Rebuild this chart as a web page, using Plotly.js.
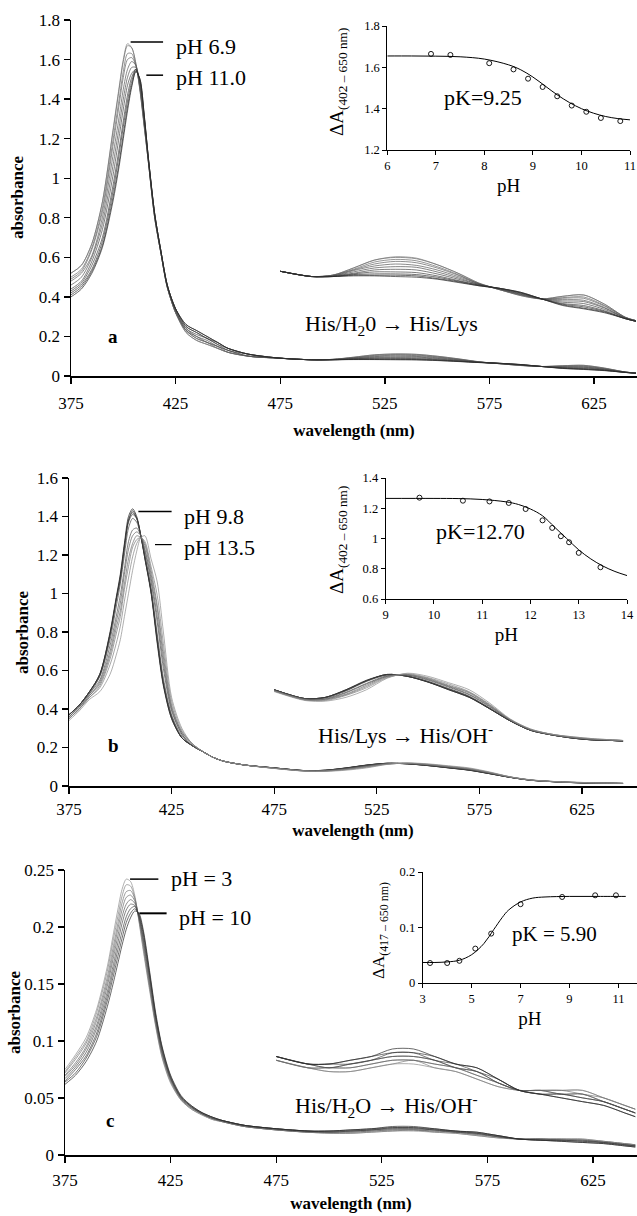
<!DOCTYPE html>
<html><head><meta charset="utf-8">
<script src="https://cdn.plot.ly/plotly-3.0.1.min.js"></script>
<style>html,body{margin:0;padding:0;background:#fff}#chart{width:637px;height:1216px}</style>
</head><body><div id="chart"></div>
<script>
// ---------------- DATA ----------------
const wavelength = [375,380,385,390,395,398,400,402,404,406,408,410,412,415,418,421,425,430,435,440,445,450,460,475,490,500,510,520,530,540,550,560,570,580,590,600,610,620,630,640,645];

// Panel a : His/H2O -> His/Lys, pH 6.9 ... pH 11.0
const specA0  = [.52,.56,.67,.88,1.24,1.46,1.60,1.68,1.66,1.58,1.44,1.26,1.08,.80,.62,.45,.32,.22,.18,.16,.14,.12,.10,.090,.082,.084,.095,.107,.112,.110,.100,.087,.072,.062,.053,.048,.052,.054,.040,.020,.015];
const specA1  = [.52,.56,.67,.88,1.23,1.45,1.59,1.67,1.66,1.58,1.44,1.26,1.08,.80,.62,.45,.32,.22,.18,.16,.14,.12,.10,.090,.082,.084,.095,.107,.111,.109,.100,.087,.072,.062,.053,.048,.052,.054,.040,.020,.015];
const specA2  = [.50,.54,.65,.85,1.19,1.40,1.54,1.63,1.63,1.57,1.45,1.27,1.08,.80,.62,.45,.32,.23,.19,.17,.14,.12,.10,.090,.082,.084,.093,.104,.108,.106,.097,.085,.071,.062,.054,.048,.050,.051,.038,.020,.015];
const specA3  = [.49,.53,.64,.83,1.16,1.37,1.51,1.60,1.61,1.57,1.45,1.27,1.08,.80,.62,.45,.32,.23,.19,.17,.15,.12,.10,.090,.082,.084,.092,.101,.105,.103,.095,.084,.071,.062,.054,.048,.049,.049,.037,.020,.015];
const specA4  = [.48,.52,.61,.80,1.11,1.31,1.45,1.55,1.59,1.57,1.46,1.28,1.09,.81,.62,.45,.33,.23,.20,.17,.15,.13,.10,.090,.082,.083,.091,.098,.101,.099,.092,.082,.071,.063,.055,.048,.047,.046,.035,.019,.015];
const specA5  = [.46,.50,.60,.77,1.06,1.26,1.40,1.51,1.56,1.56,1.47,1.29,1.09,.81,.62,.45,.33,.24,.20,.18,.15,.13,.10,.090,.082,.083,.089,.095,.097,.096,.089,.080,.070,.063,.055,.048,.045,.044,.034,.019,.015];
const specA6  = [.44,.48,.58,.74,1.01,1.21,1.35,1.47,1.53,1.55,1.48,1.30,1.09,.81,.63,.46,.33,.24,.21,.19,.16,.13,.11,.090,.082,.083,.087,.092,.093,.092,.086,.078,.070,.063,.056,.048,.043,.041,.032,.019,.014];
const specA7  = [.43,.47,.56,.70,.96,1.15,1.29,1.42,1.51,1.55,1.49,1.31,1.10,.82,.63,.46,.34,.25,.22,.19,.16,.14,.11,.090,.082,.082,.086,.089,.089,.088,.083,.076,.069,.064,.057,.048,.041,.038,.030,.018,.014];
const specA8  = [.42,.46,.54,.68,.93,1.12,1.26,1.39,1.49,1.55,1.49,1.31,1.10,.82,.63,.46,.34,.25,.22,.19,.17,.14,.11,.090,.082,.082,.085,.086,.086,.085,.081,.075,.069,.064,.057,.048,.040,.036,.029,.018,.014];
const specA9  = [.41,.45,.53,.66,.90,1.08,1.22,1.36,1.47,1.54,1.50,1.32,1.10,.82,.63,.46,.34,.26,.23,.20,.17,.14,.11,.090,.082,.082,.084,.084,.084,.083,.079,.074,.068,.064,.058,.048,.039,.034,.028,.018,.014];
const specA10 = [.40,.44,.52,.65,.88,1.06,1.20,1.34,1.46,1.54,1.50,1.32,1.10,.82,.63,.46,.34,.26,.23,.20,.17,.14,.11,.090,.082,.082,.083,.083,.082,.081,.078,.073,.068,.064,.058,.048,.038,.033,.027,.018,.014];

// Panel b : His/Lys -> His/OH-, pH 9.8 ... pH 13.5
const specB0  = [.37,.42,.49,.58,.80,.98,1.10,1.26,1.40,1.44,1.40,1.30,1.18,1.00,.74,.52,.35,.25,.21,.18,.15,.13,.11,.094,.080,.082,.094,.109,.118,.115,.106,.094,.082,.064,.045,.030,.023,.018,.015,.014,.013];
const specB1  = [.37,.42,.49,.58,.79,.97,1.09,1.25,1.38,1.43,1.39,1.30,1.18,1.01,.75,.53,.35,.25,.21,.18,.15,.13,.11,.094,.080,.082,.094,.108,.118,.115,.106,.094,.082,.064,.045,.030,.023,.018,.015,.014,.013];
const specB2  = [.37,.42,.49,.58,.79,.97,1.08,1.24,1.38,1.42,1.39,1.30,1.19,1.01,.76,.53,.36,.25,.21,.18,.15,.13,.11,.094,.080,.082,.093,.108,.118,.115,.106,.095,.083,.064,.045,.030,.023,.018,.015,.014,.013];
const specB3  = [.37,.42,.49,.57,.78,.96,1.07,1.23,1.37,1.41,1.39,1.30,1.19,1.01,.77,.54,.36,.25,.21,.18,.15,.13,.11,.094,.080,.082,.093,.108,.118,.115,.107,.095,.083,.065,.045,.030,.023,.018,.015,.014,.013];
const specB4  = [.37,.42,.48,.57,.76,.93,1.05,1.20,1.34,1.39,1.37,1.30,1.20,1.03,.79,.56,.37,.26,.21,.18,.15,.13,.11,.094,.080,.081,.092,.107,.117,.116,.107,.096,.084,.065,.045,.030,.023,.018,.015,.014,.013];
const specB5  = [.36,.41,.48,.55,.73,.88,.99,1.13,1.27,1.33,1.34,1.30,1.22,1.06,.85,.61,.39,.27,.21,.18,.15,.13,.11,.093,.079,.080,.090,.104,.116,.117,.109,.098,.086,.067,.046,.031,.023,.019,.016,.014,.013];
const specB6  = [.36,.41,.47,.54,.70,.85,.95,1.10,1.23,1.30,1.32,1.30,1.23,1.08,.88,.64,.40,.27,.21,.18,.15,.13,.11,.093,.079,.079,.089,.103,.115,.117,.110,.099,.087,.068,.046,.031,.023,.019,.016,.014,.013];
const specB7  = [.35,.40,.47,.53,.68,.82,.91,1.05,1.18,1.26,1.30,1.29,1.25,1.10,.92,.67,.41,.28,.22,.18,.15,.13,.11,.092,.078,.079,.087,.101,.115,.118,.111,.100,.089,.069,.047,.031,.024,.019,.016,.015,.014];
const specB8  = [.35,.40,.46,.52,.66,.79,.88,1.02,1.14,1.24,1.28,1.29,1.26,1.12,.94,.70,.42,.28,.22,.18,.15,.13,.11,.092,.078,.078,.086,.099,.114,.118,.112,.101,.090,.070,.047,.031,.024,.019,.016,.015,.014];
const specB9  = [.35,.40,.46,.51,.63,.74,.83,.96,1.08,1.19,1.26,1.29,1.27,1.14,.99,.74,.44,.29,.22,.18,.15,.13,.11,.092,.078,.077,.085,.097,.113,.119,.113,.103,.091,.071,.047,.032,.024,.020,.017,.015,.014];
const specB10 = [.34,.39,.45,.49,.58,.68,.76,.88,1.00,1.12,1.22,1.29,1.30,1.18,1.06,.80,.46,.30,.22,.18,.15,.13,.11,.091,.077,.076,.082,.094,.112,.120,.115,.105,.094,.073,.048,.032,.024,.020,.017,.015,.014];

// Panel c : His/H2O -> His/OH-, pH 3 ... pH 10
const specC0 = [.075,.088,.103,.128,.165,.195,.215,.233,.242,.240,.228,.205,.180,.145,.112,.085,.063,.048,.040,.035,.031,.029,.025,.022,.020,.019,.019,.020,.021,.021,.020,.019,.017,.015,.014,.014,.014,.014,.012,.010,.009];
const specC1 = [.073,.086,.100,.125,.161,.190,.209,.227,.237,.236,.226,.206,.182,.147,.113,.086,.064,.048,.040,.035,.031,.029,.025,.022,.020,.019,.019,.020,.021,.022,.020,.019,.017,.015,.014,.014,.014,.014,.012,.010,.009];
const specC2 = [.072,.084,.098,.121,.156,.184,.203,.221,.231,.232,.225,.207,.185,.149,.115,.088,.065,.049,.041,.036,.032,.029,.025,.022,.020,.020,.020,.021,.022,.022,.021,.020,.018,.016,.014,.014,.014,.013,.012,.010,.009];
const specC3 = [.070,.081,.095,.118,.152,.179,.198,.215,.226,.228,.223,.208,.187,.151,.116,.089,.066,.049,.041,.036,.032,.029,.025,.022,.020,.020,.020,.021,.022,.022,.021,.020,.018,.016,.014,.014,.013,.013,.011,.009,.008];
const specC4 = [.069,.079,.093,.114,.148,.174,.192,.209,.220,.224,.221,.209,.189,.154,.118,.090,.067,.050,.042,.036,.032,.030,.026,.023,.021,.020,.021,.022,.023,.023,.022,.020,.019,.016,.014,.014,.013,.013,.011,.009,.008];
const specC5 = [.067,.077,.090,.111,.143,.168,.186,.203,.215,.220,.219,.209,.191,.156,.119,.091,.067,.050,.042,.036,.032,.030,.026,.023,.021,.020,.021,.022,.023,.023,.022,.020,.019,.016,.014,.013,.013,.012,.011,.009,.008];
const specC6 = [.065,.075,.087,.107,.139,.163,.180,.196,.209,.216,.218,.210,.194,.158,.121,.093,.068,.051,.042,.037,.033,.030,.026,.023,.021,.021,.021,.022,.024,.024,.022,.021,.019,.017,.014,.013,.013,.012,.011,.009,.008];
const specC7 = [.064,.072,.085,.104,.135,.158,.174,.190,.204,.212,.216,.211,.196,.160,.122,.094,.069,.051,.043,.037,.033,.030,.026,.023,.021,.021,.022,.023,.024,.024,.023,.021,.020,.017,.014,.013,.012,.011,.010,.008,.007];
const specC8 = [.062,.070,.082,.100,.130,.152,.168,.184,.198,.208,.214,.212,.198,.162,.124,.095,.070,.052,.043,.037,.033,.030,.026,.023,.021,.021,.022,.023,.025,.025,.023,.021,.020,.017,.014,.013,.012,.011,.010,.008,.007];

// Insets: titration points and fitted curves
const titrA_pH = [6.9,7.3,8.1,8.6,8.9,9.2,9.5,9.8,10.1,10.4,10.8];
const titrA_dA = [1.665,1.660,1.620,1.590,1.545,1.505,1.460,1.415,1.385,1.355,1.340];
const fitA_pH  = [6,6.5,7,7.5,8,8.5,8.75,9,9.25,9.5,9.75,10,10.25,10.5,10.75,11];
const fitA_dA  = [1.655,1.655,1.654,1.651,1.640,1.612,1.588,1.553,1.510,1.467,1.430,1.400,1.378,1.362,1.352,1.346];

const titrB_pH = [9.7,10.6,11.15,11.55,11.9,12.25,12.45,12.63,12.8,13.0,13.45];
const titrB_dA = [1.27,1.25,1.245,1.235,1.195,1.12,1.07,1.015,0.975,0.905,0.81];
const fitB_pH  = [9,10,10.5,11,11.5,11.75,12,12.25,12.5,12.75,13,13.25,13.5,13.75,14];
const fitB_dA  = [1.265,1.265,1.264,1.258,1.242,1.225,1.195,1.150,1.075,1.000,0.925,0.865,0.818,0.782,0.755];

const titrC_pH = [3.3,4.0,4.5,5.15,5.8,7.0,8.7,10.05,10.9];
const titrC_dA = [0.036,0.036,0.040,0.062,0.089,0.142,0.155,0.158,0.158];
const fitC_pH  = [3,3.5,4,4.5,5,5.5,5.9,6.25,6.5,7,7.5,8,9,10,11,11.3];
const fitC_dA  = [0.037,0.037,0.038,0.041,0.051,0.071,0.096,0.118,0.131,0.146,0.153,0.155,0.156,0.156,0.156,0.156];

const xTicksMain = [375,425,475,525,575,625];

// ---------------- BUILD ----------------
const FONT = 'Liberation Serif';
const VIS = wavelength.indexOf(475);
const traces = [];
function addSpectra(list, xa, ya, yz, colors) {
  list.forEach((s, i) => {
    const ln = {color: colors[i], width: 0.7, shape: 'spline', smoothing: 0.8};
    traces.push({x: wavelength, y: s, xaxis: xa, yaxis: ya, type: 'scatter', mode: 'lines', line: ln, hoverinfo: 'skip', showlegend: false});
    traces.push({x: wavelength.slice(VIS), y: s.slice(VIS), xaxis: xa, yaxis: yz, type: 'scatter', mode: 'lines', line: ln, hoverinfo: 'skip', showlegend: false});
  });
}
function grad(n, c0, c1) {
  const out = [];
  for (let i = 0; i < n; i++) {
    const t = n > 1 ? i / (n - 1) : 0;
    const v = Math.round(c0 + (c1 - c0) * t);
    out.push('rgb(' + v + ',' + v + ',' + v + ')');
  }
  return out;
}
addSpectra([specA0,specA1,specA2,specA3,specA4,specA5,specA6,specA7,specA8,specA9,specA10], 'x', 'y', 'y2', grad(11, 120, 40));
addSpectra([specB0,specB1,specB2,specB3,specB4,specB5,specB6,specB7,specB8,specB9,specB10], 'x3', 'y4', 'y5', grad(11, 20, 140));
addSpectra([specC0,specC1,specC2,specC3,specC4,specC5,specC6,specC7,specC8], 'x5', 'y7', 'y8', grad(9, 140, 40));

function addInset(px, py, fx, fy, xa, ya) {
  traces.push({x: fx, y: fy, xaxis: xa, yaxis: ya, type: 'scatter', mode: 'lines', line: {color: '#000', width: 1, shape: 'spline'}, hoverinfo: 'skip', showlegend: false});
  traces.push({x: px, y: py, xaxis: xa, yaxis: ya, type: 'scatter', mode: 'markers', marker: {symbol: 'circle-open', size: 5, color: '#000', line: {width: 0.9, color: '#000'}}, hoverinfo: 'skip', showlegend: false});
}
addInset(titrA_pH, titrA_dA, fitA_pH, fitA_dA, 'x2', 'y3');
addInset(titrB_pH, titrB_dA, fitB_pH, fitB_dA, 'x4', 'y6');
addInset(titrC_pH, titrC_dA, fitC_pH, fitC_dA, 'x6', 'y9');

const W = 637, H = 1216;
const px = v => v / W, py = v => 1 - v / H;

const mainAx = {showline: true, linecolor: '#000', linewidth: 1.5, ticks: 'outside', ticklen: 6, tickwidth: 1.3, tickcolor: '#000',
  showgrid: false, zeroline: false, tickfont: {family: FONT, size: 17, color: '#000'}, fixedrange: true};
const insAx = {showline: true, linecolor: '#000', linewidth: 1, ticks: 'outside', ticklen: 4, tickwidth: 1, tickcolor: '#000',
  showgrid: false, zeroline: false, tickfont: {family: FONT, size: 12.5, color: '#000'}, fixedrange: true};
const xTitle = (s) => ({text: '<b>wavelength (nm)</b>', font: {family: FONT, size: 17, color: '#000'}, standoff: s});
const pHTitle = {text: 'pH', font: {family: FONT, size: 19, color: '#000'}, standoff: 6};

const layout = {
  width: W, height: H, margin: {l: 0, r: 0, t: 0, b: 0}, paper_bgcolor: '#fff', plot_bgcolor: 'rgba(0,0,0,0)', showlegend: false,
  font: {family: FONT, color: '#000'},
  // panel a
  xaxis:  Object.assign({}, mainAx, {domain: [px(71), 1], range: [375, 645.5], tickvals: xTicksMain, anchor: 'y', title: xTitle(12), ticklabelstandoff: 5}),
  yaxis:  Object.assign({}, mainAx, {domain: [py(376), py(20)], range: [0, 1.8], dtick: 0.2, anchor: 'x'}),
  yaxis2: {overlaying: 'y', range: [-0.069, 0.4715], visible: false, anchor: 'x', fixedrange: true},
  // inset a
  xaxis2: Object.assign({}, insAx, {domain: [px(387.3), px(630)], range: [6, 11], dtick: 1, anchor: 'y3', title: pHTitle}),
  yaxis3: Object.assign({}, insAx, {domain: [py(150), py(26)], range: [1.2, 1.8], dtick: 0.2, anchor: 'x2'}),
  // panel b
  xaxis3: Object.assign({}, mainAx, {domain: [px(69), 1], range: [375, 651.8], tickvals: xTicksMain, anchor: 'y4', title: xTitle(6), ticklabelstandoff: 1}),
  yaxis4: Object.assign({}, mainAx, {domain: [py(786), py(478)], range: [0, 1.6], dtick: 0.2, anchor: 'x3'}),
  yaxis5: {overlaying: 'y4', range: [-0.0576, 0.4273], visible: false, anchor: 'x3', fixedrange: true},
  // inset b
  xaxis4: Object.assign({}, insAx, {domain: [px(385.7), px(627)], range: [9, 14], dtick: 1, anchor: 'y6', title: pHTitle}),
  yaxis6: Object.assign({}, insAx, {domain: [py(599), py(478)], range: [0.6, 1.4], dtick: 0.2, anchor: 'x4'}),
  // panel c
  xaxis5: Object.assign({}, mainAx, {domain: [px(65), 1], range: [375, 645.8], tickvals: xTicksMain, anchor: 'y7', title: xTitle(8), ticklabelstandoff: 3}),
  yaxis7: Object.assign({}, mainAx, {domain: [py(1155), py(870)], range: [0, 0.25], dtick: 0.05, anchor: 'x5'}),
  yaxis8: {overlaying: 'y7', range: [-0.00318, 0.07258], visible: false, anchor: 'x5', fixedrange: true},
  // inset c
  xaxis6: Object.assign({}, insAx, {domain: [px(422.7), 1], range: [3, 11.76], tick0: 3, dtick: 2, anchor: 'y9', title: pHTitle}),
  yaxis9: Object.assign({}, insAx, {domain: [py(983), py(872)], range: [0, 0.2], dtick: 0.1, anchor: 'x6'}),
  annotations: [], shapes: []
};

const A = layout.annotations, S = layout.shapes;
function txt(text, x, y, xref, yref, size, opts) {
  A.push(Object.assign({text: text, x: x, y: y, xref: xref, yref: yref, showarrow: false, xanchor: 'center', yanchor: 'middle',
    font: {family: FONT, size: size, color: '#000'}}, opts || {}));
}
function seg(x0, x1, y, xref, yref, w) {
  S.push({type: 'line', x0: x0, x1: x1, y0: y, y1: y, xref: xref, yref: yref, line: {color: '#000', width: w || 1.5}});
}
// y-axis titles
txt('<b>absorbance</b>', px(18), py(197), 'paper', 'paper', 17, {textangle: -90});
txt('<b>absorbance</b>', px(22), py(632), 'paper', 'paper', 17, {textangle: -90});
txt('<b>absorbance</b>', px(14), py(1012), 'paper', 'paper', 17, {textangle: -90});
// panel a labels
seg(403.5, 419, 1.689, 'x', 'y'); txt('pH 6.9', 424, 1.664, 'x', 'y', 22, {xanchor: 'left'});
seg(411, 419, 1.521, 'x', 'y'); txt('pH 11.0', 424, 1.51, 'x', 'y', 22, {xanchor: 'left'});
txt('<b>a</b>', 395, 0.2, 'x', 'y', 19);
txt('His/H<sub>2</sub>0 \u2192 His/Lys', 528, 0.257, 'x', 'y', 22);
txt('pK=9.25', 7.98, 1.456, 'x2', 'y3', 22);
txt('\u0394A<sub>(402 \u2013 650 nm)</sub>', px(338), py(82), 'paper', 'paper', 19, {textangle: -90});
// panel b labels
seg(408.8, 425, 1.426, 'x3', 'y4'); txt('pH 9.8', 430, 1.40, 'x3', 'y4', 22, {xanchor: 'left'});
seg(416.9, 425, 1.254, 'x3', 'y4', 1.2); txt('pH 13.5', 430, 1.24, 'x3', 'y4', 22, {xanchor: 'left'});
txt('<b>b</b>', 396.6, 0.21, 'x3', 'y4', 19);
txt('His/Lys \u2192 His/OH<sup>-</sup>', 539, 0.272, 'x3', 'y4', 22);
txt('pK=12.70', 10.97, 1.044, 'x4', 'y6', 22);
txt('\u0394A<sub>(402 \u2013 650 nm)</sub>', px(338), py(540), 'paper', 'paper', 19, {textangle: -90});
// panel c labels
seg(405.8, 419.2, 0.242, 'x5', 'y7'); txt('pH = 3', 424, 0.2427, 'x5', 'y7', 22, {xanchor: 'left'});
seg(410.2, 423.1, 0.212, 'x5', 'y7', 2); txt('pH = 10', 428, 0.2085, 'x5', 'y7', 22, {xanchor: 'left'});
txt('<b>c</b>', 396.3, 0.03, 'x5', 'y7', 19);
txt('His/H<sub>2</sub>O \u2192 His/OH<sup>-</sup>', 527, 0.043, 'x5', 'y7', 22);
txt('pK = 5.90', 8.38, 0.089, 'x6', 'y9', 21);
txt('\u0394A<sub>(417 \u2013 650 nm)</sub>', px(380), py(931), 'paper', 'paper', 17, {textangle: -90});

Plotly.newPlot('chart', traces, layout, {staticPlot: true, displayModeBar: false});
</script>
</body></html>
